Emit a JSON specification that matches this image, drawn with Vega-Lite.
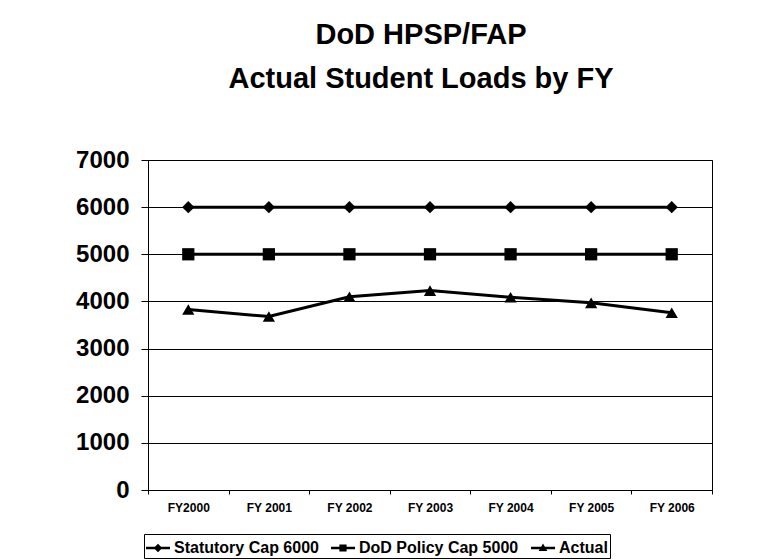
{
  "$schema": "https://vega.github.io/schema/vega-lite/v6.json",
  "width": 564,
  "height": 330,
  "autosize": {"type": "none"},
  "padding": {"left": 148, "top": 160, "right": 60, "bottom": 70},
  "background": "white",
  "title": {
    "text": ["DoD HPSP/FAP", "Actual Student Loads by FY"],
    "font": "Liberation Sans",
    "fontSize": 29,
    "fontWeight": "bold",
    "color": "black",
    "lineHeight": 44,
    "anchor": "middle",
    "dx": -9,
    "offset": 54
  },
  "config": {
    "view": {"stroke": "black", "strokeWidth": 1},
    "font": "Liberation Sans"
  },
  "data": {
    "values": [
      {"fy": "FY2000", "series": "Statutory Cap 6000", "value": 6000},
      {"fy": "FY 2001", "series": "Statutory Cap 6000", "value": 6000},
      {"fy": "FY 2002", "series": "Statutory Cap 6000", "value": 6000},
      {"fy": "FY 2003", "series": "Statutory Cap 6000", "value": 6000},
      {"fy": "FY 2004", "series": "Statutory Cap 6000", "value": 6000},
      {"fy": "FY 2005", "series": "Statutory Cap 6000", "value": 6000},
      {"fy": "FY 2006", "series": "Statutory Cap 6000", "value": 6000},
      {"fy": "FY2000", "series": "DoD Policy Cap 5000", "value": 5000},
      {"fy": "FY 2001", "series": "DoD Policy Cap 5000", "value": 5000},
      {"fy": "FY 2002", "series": "DoD Policy Cap 5000", "value": 5000},
      {"fy": "FY 2003", "series": "DoD Policy Cap 5000", "value": 5000},
      {"fy": "FY 2004", "series": "DoD Policy Cap 5000", "value": 5000},
      {"fy": "FY 2005", "series": "DoD Policy Cap 5000", "value": 5000},
      {"fy": "FY 2006", "series": "DoD Policy Cap 5000", "value": 5000},
      {"fy": "FY2000", "series": "Actual", "value": 3830},
      {"fy": "FY 2001", "series": "Actual", "value": 3680},
      {"fy": "FY 2002", "series": "Actual", "value": 4100},
      {"fy": "FY 2003", "series": "Actual", "value": 4230},
      {"fy": "FY 2004", "series": "Actual", "value": 4090},
      {"fy": "FY 2005", "series": "Actual", "value": 3970},
      {"fy": "FY 2006", "series": "Actual", "value": 3760}
    ]
  },
  "encoding": {
    "x": {
      "field": "fy",
      "type": "nominal",
      "sort": null,
      "scale": {"type": "band", "paddingInner": 0, "paddingOuter": 0},
      "axis": {
        "title": null,
        "labelAngle": 0,
        "labelFont": "Liberation Sans",
        "labelFontSize": 12,
        "labelFontWeight": "bold",
        "labelColor": "black",
        "labelPadding": 8,
        "tickBand": "extent",
        "tickSize": 4,
        "tickColor": "black",
        "domainColor": "black",
        "grid": false
      }
    },
    "y": {
      "field": "value",
      "type": "quantitative",
      "scale": {"domain": [0, 7000], "nice": false},
      "axis": {
        "title": null,
        "values": [0, 1000, 2000, 3000, 4000, 5000, 6000, 7000],
        "format": "d",
        "labelFont": "Liberation Sans",
        "labelFontSize": 24,
        "labelFontWeight": "bold",
        "labelColor": "black",
        "labelPadding": 12,
        "tickSize": 7,
        "tickColor": "black",
        "domainColor": "black",
        "grid": true,
        "gridColor": "black",
        "gridOpacity": 1,
        "gridWidth": 1
      }
    }
  },
  "layer": [
    {
      "mark": {"type": "line", "color": "black", "strokeWidth": 3},
      "encoding": {
        "detail": {"field": "series", "type": "nominal"}
      }
    },
    {
      "mark": {"type": "point", "filled": true, "color": "black", "opacity": 1, "size": 150},
      "encoding": {
        "shape": {
          "field": "series",
          "type": "nominal",
          "scale": {
            "domain": ["Statutory Cap 6000", "DoD Policy Cap 5000", "Actual"],
            "range": ["diamond", "square", "triangle-up"]
          },
          "legend": null
        }
      }
    },
    {
      "transform": [{"filter": "false"}],
      "mark": {"type": "point", "filled": true, "color": "black", "opacity": 1},
      "encoding": {
        "shape": {
          "field": "series",
          "type": "nominal",
          "scale": {
            "domain": ["Statutory Cap 6000", "DoD Policy Cap 5000", "Actual"],
            "range": [
              "M-1,-0.1H1V0.1H-1ZM0,-0.36L0.36,0L0,0.36L-0.36,0Z",
              "M-1,-0.1H1V0.1H-1ZM-0.3,-0.3H0.3V0.3H-0.3Z",
              "M-1,-0.1H1V0.1H-1ZM0,-0.38L0.36,0.26H-0.36Z"
            ]
          },
          "legend": {
            "title": null,
            "orient": "none",
            "legendX": -4,
            "legendY": 374,
            "direction": "horizontal",
            "strokeColor": "black",
            "padding": 2,
            "labelFont": "Liberation Sans",
            "labelFontSize": 16,
            "labelFontWeight": "bold",
            "labelColor": "black",
            "labelOffset": 4,
            "columnPadding": 12,
            "symbolSize": 576,
            "symbolStrokeWidth": 0,
            "symbolFillColor": "black",
            "symbolOpacity": 1
          }
        }
      }
    }
  ],
  "resolve": {"scale": {"shape": "independent"}}
}
